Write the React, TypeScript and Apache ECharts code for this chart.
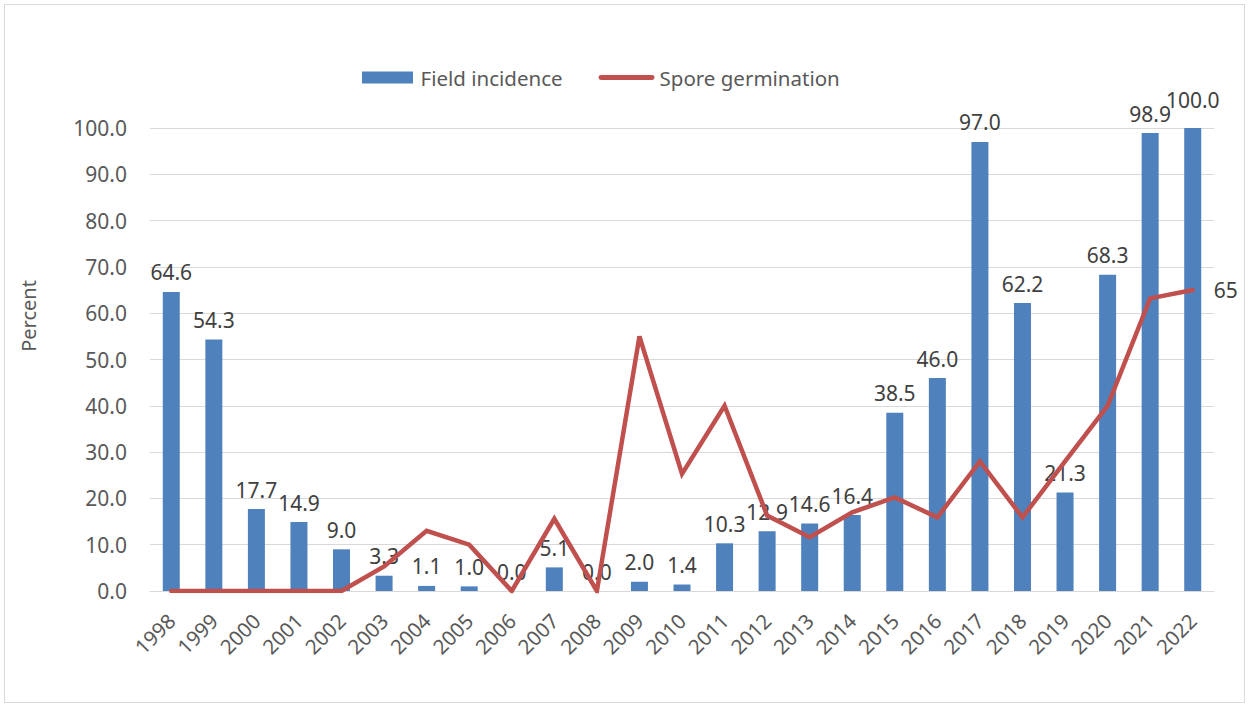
import React, { useEffect, useRef } from "react";
import * as echarts from "echarts";

const years = ["1998","1999","2000","2001","2002","2003","2004","2005","2006","2007","2008","2009","2010","2011","2012","2013","2014","2015","2016","2017","2018","2019","2020","2021","2022"];
const fieldIncidence = [64.6,54.3,17.7,14.9,9.0,3.3,1.1,1.0,0.0,5.1,0.0,2.0,1.4,10.3,12.9,14.6,16.4,38.5,46.0,97.0,62.2,21.3,68.3,98.9,100.0];
const sporeGermination = [0,0,0,0,0,5.3,13,10,0,15.6,0,55,25.3,40,16.3,11.6,17,20.2,15.9,28,15.9,28,40,63.2,65];
const yTicks = { min: 0, max: 100, interval: 10 };

const FONT = "Noto Sans";
const TXT = "#595959";
const LBL = "#404040";

export default function App() {
  const ref = useRef<HTMLDivElement>(null);
  useEffect(() => {
    const chart = echarts.init(ref.current!, null, { renderer: "svg" });
    const lastIdx = fieldIncidence.length - 1;
    chart.setOption({
      animation: false,
      backgroundColor: "#ffffff",
      textStyle: { fontFamily: FONT },
      graphic: [
        { type: "rect", shape: { x: 4.5, y: 4.5, width: 1240, height: 698 }, style: { fill: "none", stroke: "#D9D9D9", lineWidth: 1 }, silent: true },
        { type: "text", x: 28, y: 316, rotation: Math.PI / 2, style: { text: "Percent", fill: TXT, font: `20px '${FONT}'`, align: "center", verticalAlign: "middle" } },
      ],
      legend: {
        top: 62,
        left: 357,
        itemGap: 36,
        itemWidth: 56,
        itemHeight: 12,
        textStyle: { color: TXT, fontSize: 20.5, fontFamily: FONT, padding: [0, 0, 0, 0] },
        data: [
          { name: "Field incidence", icon: "path://M0,0 L51,0 L51,12 L0,12 Z", itemStyle: { color: "#4F81BD" } },
          { name: "Spore germination", icon: "path://M2.5,0 L54.5,0 A2.5,2.5 0 0 1 54.5,5 L2.5,5 A2.5,2.5 0 0 1 2.5,0 Z", itemStyle: { color: "#C0504D" } },
        ],
      },
      grid: { left: 150, right: 35, top: 128, bottom: 116, containLabel: false },
      xAxis: {
        type: "category",
        data: years,
        axisLine: { lineStyle: { color: "#D9D9D9", width: 1 } },
        axisTick: { show: false },
        axisLabel: { rotate: 45, color: TXT, fontSize: 20.5, fontFamily: FONT, margin: 26, interval: 0 },
      },
      yAxis: {
        type: "value",
        min: yTicks.min,
        max: yTicks.max,
        interval: yTicks.interval,
        axisLine: { show: false },
        axisTick: { show: false },
        splitLine: { lineStyle: { color: "#D9D9D9", width: 1 } },
        axisLabel: { color: TXT, fontSize: 21, fontFamily: FONT, margin: 23, formatter: (v: number) => v.toFixed(1) },
      },
      series: [
        {
          name: "Field incidence",
          type: "bar",
          data: fieldIncidence,
          barWidth: 17,
          itemStyle: { color: "#4F81BD" },
          label: {
            show: true,
            position: "top",
            distance: 9,
            color: LBL,
            fontSize: 21,
            fontFamily: FONT,
            formatter: (p: any) => Number(p.value).toFixed(1),
          },
          labelLayout: (params: any) => (params.dataIndex === lastIdx ? { dy: -9 } : {}),
        },
        {
          name: "Spore germination",
          type: "line",
          data: sporeGermination,
          symbol: "none",
          showSymbol: false,
          lineStyle: { color: "#C0504D", width: 4.5, cap: "round", join: "miter" },
          itemStyle: { color: "#C0504D" },
          endLabel: { show: true, distance: 21, color: LBL, fontSize: 21, fontFamily: FONT, formatter: (p: any) => String(p.value) },
          z: 5,
        },
      ],
    });
    return () => chart.dispose();
  }, []);
  return <div ref={ref} style={{ position: "fixed", left: 0, top: 0, width: 1249, height: 707 }} />;
}
